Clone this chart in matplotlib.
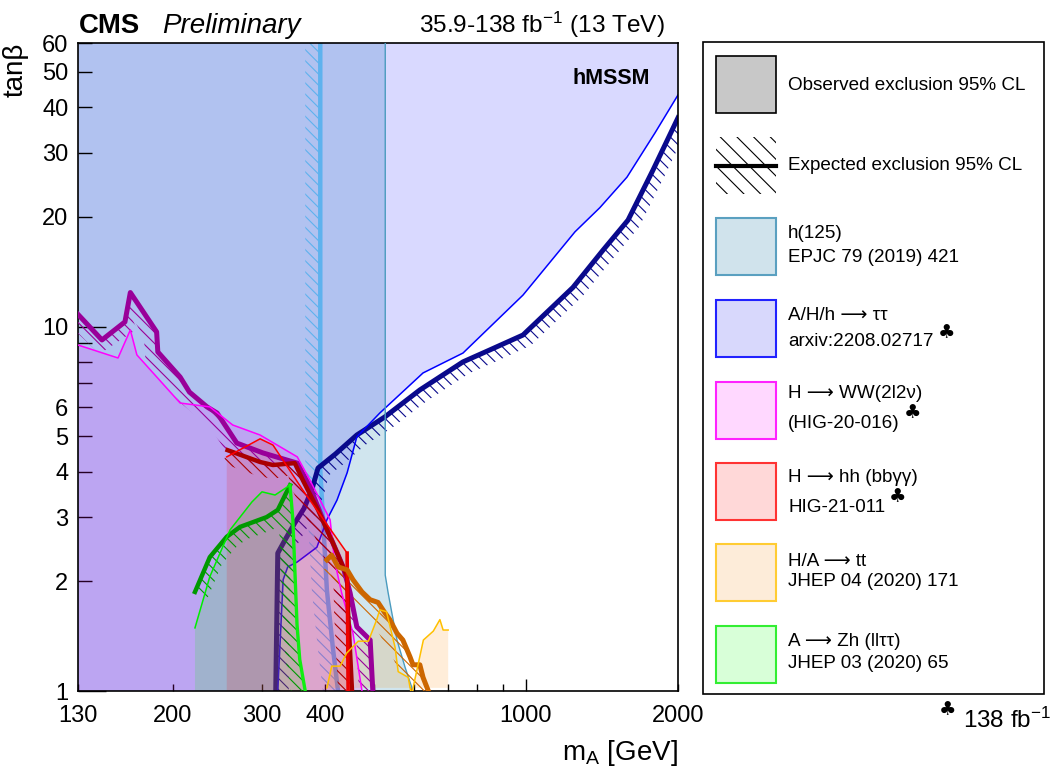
import numpy as np
import matplotlib
matplotlib.use("Agg")
import matplotlib.pyplot as plt
from matplotlib.patches import Polygon, Rectangle

plt.rcParams['font.family'] = ['Liberation Sans', 'DejaVu Sans']
plt.rcParams['mathtext.fontset'] = 'custom'
plt.rcParams['mathtext.rm'] = 'Liberation Sans'
plt.rcParams['mathtext.it'] = 'Liberation Sans:italic'
plt.rcParams['hatch.linewidth'] = 0.8

# plane limits (m_A in GeV, tan beta)
XMIN, XMAX = 130, 2000
YMIN, YMAX = 1, 60

# h(125) compatibility : observed boundary and expected line
h125_obs_m = [527, 527, 534, 543, 556, 577, 598]
h125_obs_tb = [60, 2.08, 1.86, 1.64, 1.38, 1.16, 1.0]
h125_exp_m = [392, 392, 397, 404, 415, 425]
h125_exp_tb = [60, 4.05, 2.95, 1.89, 1.32, 1.0]

# A/H/h -> tau tau
tautau_obs_m = [323, 331, 338, 353, 386, 404, 423, 443, 463, 514, 626, 751, 987,
                1251, 1401, 1585, 1801, 2000]
tautau_obs_tb = [1.0, 2.02, 2.19, 2.26, 2.48, 2.95, 3.34, 3.97, 4.98, 5.79, 7.46, 8.46,
                 12.2, 18.2, 21.2, 25.7, 34.0, 43.2]
tautau_exp_m = [320, 323, 334, 349, 364, 377, 388, 420, 463, 526, 617, 751, 849, 987,
                1239, 1421, 1593, 1785, 2000]
tautau_exp_tb = [1.0, 2.39, 2.60, 2.89, 3.17, 3.56, 4.09, 4.47, 5.04, 5.65, 6.70, 8.00,
                 8.63, 9.48, 12.8, 16.2, 19.6, 26.9, 37.4]

# H -> WW (2l2nu)
ww_obs_m = [130, 156, 165, 170, 207, 237, 263, 298, 353, 374, 410, 418, 432, 455, 474]
ww_obs_tb = [8.9, 8.2, 9.79, 8.36, 6.17, 6.02, 5.37, 5.04, 4.39, 3.79, 2.95, 2.29,
             1.86, 1.44, 1.0]
ww_exp_m = [130, 145, 161, 165, 186, 187, 207, 216, 234, 245, 268, 302, 353, 374, 397,
            435, 449, 463, 492, 498]
ww_exp_tb = [10.8, 9.19, 10.3, 12.4, 9.67, 8.52, 7.27, 6.61, 6.02, 5.79, 4.79, 4.50,
             4.22, 3.63, 2.95, 2.19, 1.86, 1.50, 1.38, 1.0]

# H -> hh (bb gamma gamma)
hh_obs_m = [256, 298, 316, 362, 443, 445]
hh_obs_tb = [4.39, 4.92, 4.73, 3.56, 2.39, 1.0]
hh_exp_m = [257, 298, 316, 349, 362, 388, 415, 443, 445, 453]
hh_exp_tb = [4.58, 4.25, 4.17, 4.22, 3.79, 3.14, 2.55, 2.06, 1.64, 1.0]

# A -> Zh (ll tau tau)
zh_obs_m = [221.5, 237, 260, 287, 300.6, 319, 341.5, 346, 352.6, 357, 366]
zh_obs_tb = [1.49, 2.06, 2.77, 3.30, 3.52, 3.45, 3.67, 2.95, 1.52, 1.22, 1.0]
zh_exp_m = [221.5, 237, 256, 272, 307, 323, 341.5]
zh_exp_tb = [1.87, 2.33, 2.65, 2.82, 3.00, 3.14, 3.67]

# H/A -> tt
tt_obs_m = [404, 413, 429, 442, 466, 488, 507, 514, 530, 551, 559, 585, 594, 627, 656,
            676, 686, 702]
tt_obs_tb = [1.02, 1.17, 1.17, 1.27, 1.37, 1.37, 1.57, 1.67, 1.65, 1.32, 1.13, 1.09,
             0.975, 1.38, 1.46, 1.57, 1.47, 1.47]
tt_exp_m = [404, 413, 425, 443, 455, 474, 492, 510, 526, 538, 556, 571, 590, 598, 617,
            626, 646]
tt_exp_tb = [2.29, 2.36, 2.19, 2.15, 2.02, 1.87, 1.78, 1.75, 1.64, 1.57, 1.44, 1.38,
             1.24, 1.18, 1.18, 1.09, 0.975]

x_minor = [130, 200, 300, 400, 500, 600, 700, 800, 900, 2000]
x_minor_lab = ['130', '200', '300', '400', '', '', '', '', '', '2000']
y_minor = [2, 3, 4, 5, 6, 7, 8, 9, 20, 30, 40, 50, 60]
y_minor_lab = ['2', '3', '4', '5', '6', '', '', '', '20', '30', '40', '50', '60']

# legend content (long arrow comes from the DejaVu fallback)
ARR = " \u27f6 "
leg_labels = [
    ("h(125)", "EPJC 79 (2019) 421"),
    ("A/H/h" + ARR + "\u03c4\u03c4", "arxiv:2208.02717"),
    ("H" + ARR + "WW(2l2\u03bd)", "(HIG-20-016)"),
    ("H" + ARR + "hh (bb\u03b3\u03b3)", "HIG-21-011"),
    ("H/A" + ARR + "tt", "JHEP 04 (2020) 171"),
    ("A" + ARR + "Zh (ll\u03c4\u03c4)", "JHEP 03 (2020) 65"),
]

C_H125, C_H125_EXP = "#4a9bbf", "#5eb2ee"
C_TT_FILL = "#0000ff"
PLOT_HATCH = '\\' * 3


def hatch_band(ax, xs, ys, color, side=-1, width=13, zorder=2):
    """Hatched strip of fixed pixel width on one side of an exclusion line."""
    pts = ax.transData.transform(np.column_stack([xs, ys]))
    tan = np.gradient(pts, axis=0)
    tan /= np.hypot(tan[:, 0], tan[:, 1])[:, None]
    nrm = np.column_stack([-tan[:, 1], tan[:, 0]]) * side
    outer = pts + width * nrm
    poly = ax.transData.inverted().transform(np.vstack([pts, outer[::-1]]))
    ax.add_patch(Polygon(poly, closed=True, facecolor='none', edgecolor=color,
                         hatch=PLOT_HATCH, lw=0, zorder=zorder))


fig = plt.figure(figsize=(10.51, 7.70), dpi=100)
ax = fig.add_axes([78 / 1051, 79 / 770, 600 / 1051, 648 / 770])
ax.set_xscale('log')
ax.set_yscale('log')
ax.set_xlim(XMIN, XMAX)
ax.set_ylim(YMIN, YMAX)

# ---- observed regions ----
ax.fill([XMIN] + h125_obs_m + [XMIN], [YMAX] + h125_obs_tb + [YMIN],
        color=C_H125, alpha=0.26, lw=0, zorder=1)
ax.fill([XMIN, XMAX] + tautau_obs_m[::-1] + [XMIN],
        [YMAX, YMAX] + tautau_obs_tb[::-1] + [YMIN],
        color=C_TT_FILL, alpha=0.15, lw=0, zorder=1.1)

# h(125) expected + tau tau lines sit under the later fills
hatch_band(ax, h125_exp_m, h125_exp_tb, C_H125_EXP, side=-1, width=15, zorder=1.2)
ax.plot(h125_exp_m, h125_exp_tb, color=C_H125_EXP, lw=3.2, zorder=1.25)
hatch_band(ax, tautau_exp_m, tautau_exp_tb, "#0a0a8c", side=-1, width=13, zorder=1.3)
ax.plot(tautau_exp_m, tautau_exp_tb, color="#0a0a8c", lw=3.6, zorder=1.35)
ax.plot(tautau_obs_m, tautau_obs_tb, color="#0000ff", lw=1.1, zorder=1.35)

ax.fill([XMIN] + ww_obs_m + [ww_obs_m[-1]], [YMIN] + ww_obs_tb + [YMIN],
        color="#ff00ff", alpha=0.15, lw=0, zorder=2)
ax.fill([zh_obs_m[0]] + zh_obs_m + [zh_obs_m[-1]], [YMIN] + zh_obs_tb + [YMIN],
        color="#00ff00", alpha=0.15, lw=0, zorder=2)
ax.fill([hh_obs_m[0]] + hh_obs_m, [YMIN] + hh_obs_tb,
        color="#ff0000", alpha=0.15, lw=0, zorder=2)
ax.fill(tt_obs_m + [tt_obs_m[-1]], tt_obs_tb + [tt_obs_tb[0]],
        color="#ff8c00", alpha=0.15, lw=0, zorder=2)

ax.plot(h125_obs_m, h125_obs_tb, color=C_H125, lw=1.0, zorder=3)

# ---- expected / observed lines of the low-tan beta channels ----
hatch_band(ax, ww_exp_m, ww_exp_tb, "#990099", width=14, zorder=3)
ax.plot(ww_exp_m, ww_exp_tb, color="#990099", lw=3.6, zorder=3.1)
ax.plot(ww_obs_m, ww_obs_tb, color="#ff00ff", lw=1.1, zorder=3.1)

zh_band_m = zh_exp_m + zh_obs_m[7:]
zh_band_tb = zh_exp_tb + zh_obs_tb[7:]
hatch_band(ax, zh_band_m, zh_band_tb, "#009900", width=14, zorder=3)
ax.plot(zh_exp_m, zh_exp_tb, color="#009900", lw=3.2, zorder=3.2)
ax.plot(zh_obs_m, zh_obs_tb, color="#00ee00", lw=1.1, zorder=3.2)
ax.plot(zh_obs_m[6:], zh_obs_tb[6:], color="#11ee11", lw=2.4, zorder=3.2)

hatch_band(ax, hh_exp_m, hh_exp_tb, "#aa0000", width=14, zorder=3)
ax.plot(hh_exp_m, hh_exp_tb, color="#aa0000", lw=3.2, zorder=3.3)
ax.plot(hh_obs_m, hh_obs_tb, color="#ff0000", lw=1.1, zorder=3.3)
ax.plot(hh_obs_m[-2:], hh_obs_tb[-2:], color="#ee0000", lw=2.6, zorder=3.3)

hatch_band(ax, tt_exp_m, tt_exp_tb, "#cc6600", width=16, zorder=3)
ax.plot(tt_exp_m, tt_exp_tb, color="#cc6600", lw=3.6, zorder=3.4)
ax.plot(tt_obs_m, tt_obs_tb, color="#ffc000", lw=1.1, zorder=3.4)

# ---- axes ----
ax.set_xticks([1000], ['1000'])
ax.set_xticks(x_minor, x_minor_lab, minor=True)
ax.set_yticks([1, 10], ['1', '10'])
ax.set_yticks(y_minor, y_minor_lab, minor=True)
ax.tick_params(axis='both', which='both', direction='in', top=False, right=False,
               labelsize=17, width=1.0, color='black')
ax.tick_params(axis='y', which='major', length=20, pad=7)
ax.tick_params(axis='y', which='minor', length=10, pad=7)
ax.tick_params(axis='x', which='major', length=8.5, pad=10)
ax.tick_params(axis='x', which='minor', length=5, pad=10)
for s in ax.spines.values():
    s.set_linewidth(1.2)

# ---- overlay in pixel coordinates: titles and legend ----
ov = fig.add_axes([0, 0, 1, 1])
ov.set_xlim(0, 1051)
ov.set_ylim(770, 0)
ov.axis('off')

ov.text(79, 33, "CMS", fontsize=19.8, fontweight='bold', va='baseline')
ov.text(162, 33, "Preliminary", fontsize=20, style='italic', va='baseline')
ov.text(665, 33, "35.9-138 fb$^{-1}$ (13 TeV)", fontsize=17.6, ha='right', va='baseline')
ax.text(0.825, 0.945, "hMSSM", transform=ax.transAxes, fontsize=15.5, fontweight='bold',
        ha='left', va='center', zorder=5)
ov.text(16, 70, "tan\u03b2", fontsize=20, rotation=90, ha='center', va='center')
ov.text(678, 760, "m$_{\\rm A}$ [GeV]", fontsize=20, ha='right', va='baseline')

ov.add_patch(Rectangle((703, 42), 341, 652, facecolor='none', edgecolor='black', lw=1.2))
bx, bw, bh, tx = 716, 60, 57, 788
ov.add_patch(Rectangle((bx, 56), bw, bh, facecolor='#c8c8c8', edgecolor='black', lw=1.2))
ov.text(tx, 85, "Observed exclusion 95% CL", fontsize=13.6, va='center')
ov.add_patch(Rectangle((bx, 137), bw, bh, facecolor='none', edgecolor='black',
                       hatch='\\\\', lw=0))
ov.plot([bx, bx + bw], [166, 166], color='black', lw=3.0)
ov.text(tx, 166, "Expected exclusion 95% CL", fontsize=13.6, va='center')

leg_fill = ["#d0e3ec", "#d8d8fc", "#ffd8ff", "#ffd8d8", "#fdecd9", "#d8ffd8"]
leg_edge = ["#5aa0c0", "#2222ff", "#ff22ff", "#ff3333", "#ffcc33", "#33ee33"]
leg_top = [218, 300, 382, 463, 544, 626]
leg_l1 = [233, 315, 393, 477, 562, 642]
leg_l2 = [258, 342, 423, 507, 582, 663]
for (l1, l2), fc, ec, top, y1, y2 in zip(leg_labels, leg_fill, leg_edge, leg_top,
                                         leg_l1, leg_l2):
    ov.add_patch(Rectangle((bx, top), bw, bh, facecolor=fc, edgecolor=ec, lw=1.5))
    ov.text(tx, y1, l1, fontsize=13.6, va='center')
    ov.text(tx, y2, l2, fontsize=13.6, va='center')

for cx, cy in [(947, 333), (913, 413), (898, 497), (948, 710)]:
    ov.text(cx, cy, "\u2663", fontsize=14, ha='center', va='center', family='DejaVu Sans')
ov.text(963, 728, "138 fb$^{-1}$", fontsize=17.5, va='baseline')

fig.savefig("out.png", dpi=100, facecolor='white')
